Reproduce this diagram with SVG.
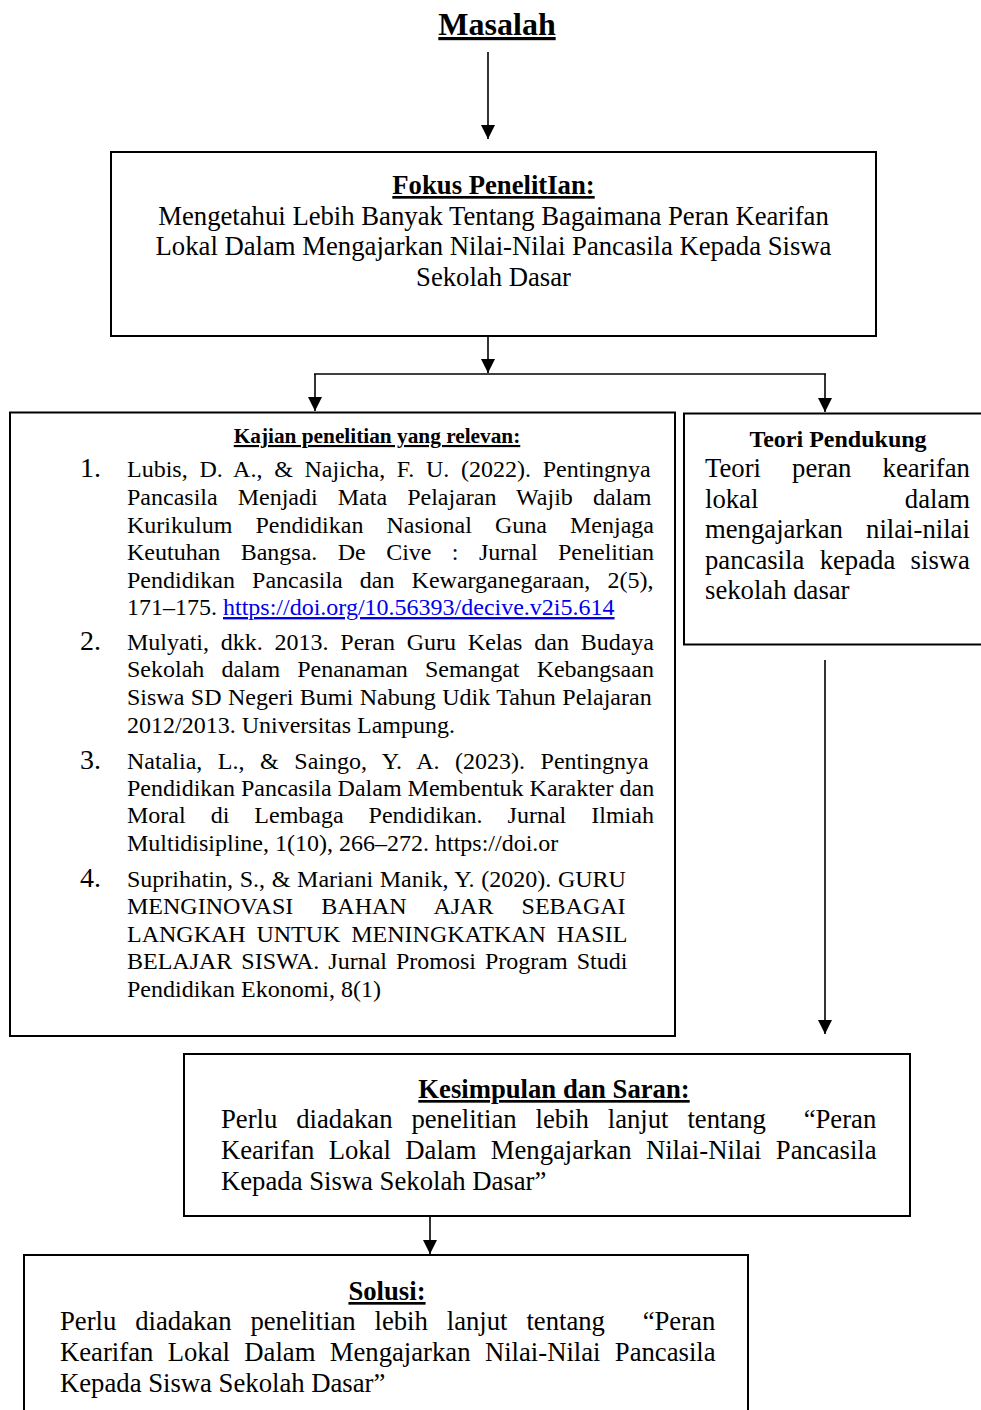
<svg xmlns="http://www.w3.org/2000/svg" width="981" height="1410" viewBox="0 0 981 1410">
<defs>
<style>
.box{fill:#fff;stroke:#000;stroke-width:2}
.t{font-family:'Liberation Serif','Times New Roman',serif;fill:#000}
.big{font-size:26.7px}
.ref{font-size:24px}
.num{font-size:28px}
.b{font-weight:bold}
.u{text-decoration:underline}
.mid{text-anchor:middle}
.conn line{stroke:#000;stroke-width:1.6}
.link{fill:#0000EE;text-decoration:underline}
</style>
<marker id="ah" viewBox="0 0 14 14" refX="14" refY="7" markerWidth="14" markerHeight="14" markerUnits="userSpaceOnUse" orient="auto">
<path d="M0,0 L14,7 L0,14 z" fill="#000"/>
</marker>
</defs>
<rect width="981" height="1410" fill="#fff"/>

<g id="masalah">
<text class="t b u mid" x="497" y="35" font-size="32">Masalah</text>
</g>

<g id="connectors" class="conn">
<line x1="488" y1="52" x2="488" y2="139" marker-end="url(#ah)"/>
<line x1="488" y1="337" x2="488" y2="373" marker-end="url(#ah)"/>
<line x1="314" y1="374" x2="826" y2="374"/>
<line x1="315" y1="374" x2="315" y2="411" marker-end="url(#ah)"/>
<line x1="825" y1="374" x2="825" y2="412" marker-end="url(#ah)"/>
<line x1="825" y1="660" x2="825" y2="1034" marker-end="url(#ah)"/>
<line x1="430" y1="1217" x2="430" y2="1254" marker-end="url(#ah)"/>
</g>

<g id="fokus">
<rect class="box" x="111" y="152" width="765" height="184"/>
<text class="t big b u mid" x="493.5" y="194">Fokus PenelitIan:</text>
<text class="t big mid" x="493.5" y="225">Mengetahui Lebih Banyak Tentang Bagaimana Peran Kearifan</text>
<text class="t big mid" x="493.5" y="255">Lokal Dalam Mengajarkan Nilai-Nilai Pancasila Kepada Siswa</text>
<text class="t big mid" x="493.5" y="286">Sekolah Dasar</text>
</g>

<g id="kajian">
<rect class="box" x="10" y="412.5" width="665" height="623.5"/>
<text class="t b u mid" x="377" y="443" font-size="21.3">Kajian penelitian yang relevan:</text>
<text class="t num" x="80" y="477">1.</text>
<text class="t ref" x="127" y="477" word-spacing="5.71">Lubis, D. A., &amp; Najicha, F. U. (2022). Pentingnya</text>
<text class="t ref" x="127" y="505" word-spacing="14.08">Pancasila Menjadi Mata Pelajaran Wajib dalam</text>
<text class="t ref" x="127" y="533" word-spacing="17.1">Kurikulum Pendidikan Nasional Guna Menjaga</text>
<text class="t ref" x="127" y="560" word-spacing="14.4">Keutuhan Bangsa. De Cive : Jurnal Penelitian</text>
<text class="t ref" x="127" y="588" word-spacing="11.1">Pendidikan Pancasila dan Kewarganegaraan, 2(5),</text>
<text class="t ref" x="127" y="615">171–175. <tspan class="link">https://doi.org/10.56393/decive.v2i5.614</tspan></text>
<text class="t num" x="80" y="650">2.</text>
<text class="t ref" x="127" y="650" word-spacing="5.77">Mulyati, dkk. 2013. Peran Guru Kelas dan Budaya</text>
<text class="t ref" x="127" y="677" word-spacing="11.1">Sekolah dalam Penanaman Semangat Kebangsaan</text>
<text class="t ref" x="127" y="705" word-spacing="0.5">Siswa SD Negeri Bumi Nabung Udik Tahun Pelajaran</text>
<text class="t ref" x="127" y="733">2012/2013. Universitas Lampung.</text>
<text class="t num" x="80" y="769">3.</text>
<text class="t ref" x="127" y="769" word-spacing="9.57">Natalia, L., &amp; Saingo, Y. A. (2023). Pentingnya</text>
<text class="t ref" x="127" y="796">Pendidikan Pancasila Dalam Membentuk Karakter dan</text>
<text class="t ref" x="127" y="823" word-spacing="19">Moral di Lembaga Pendidikan. Jurnal Ilmiah</text>
<text class="t ref" x="127" y="851">Multidisipline, 1(10), 266–272. https://doi.or</text>
<text class="t num" x="80" y="887">4.</text>
<text class="t ref" x="127" y="887" word-spacing="0.7">Suprihatin, S., &amp; Mariani Manik, Y. (2020). GURU</text>
<text class="t ref" x="127" y="914" word-spacing="22.1">MENGINOVASI BAHAN AJAR SEBAGAI</text>
<text class="t ref" x="127" y="942" word-spacing="4.8">LANGKAH UNTUK MENINGKATKAN HASIL</text>
<text class="t ref" x="127" y="969" word-spacing="3">BELAJAR SISWA. Jurnal Promosi Program Studi</text>
<text class="t ref" x="127" y="997">Pendidikan Ekonomi, 8(1)</text>
</g>

<g id="teori">
<rect class="box" x="684" y="413.5" width="310" height="231"/>
<text class="t b mid" x="838" y="447" font-size="24">Teori Pendukung</text>
<text class="t big" x="705" y="477" word-spacing="24.5">Teori peran kearifan</text>
<text class="t big" x="705" y="508">lokal</text>
<text class="t big" x="970" y="508" text-anchor="end">dalam</text>
<text class="t big" x="705" y="538" word-spacing="16.6">mengajarkan nilai-nilai</text>
<text class="t big" x="705" y="569" word-spacing="8.7">pancasila kepada siswa</text>
<text class="t big" x="705" y="599">sekolah dasar</text>
</g>

<g id="kesimpulan">
<rect class="box" x="184" y="1054" width="726" height="162"/>
<text class="t big b u mid" x="554" y="1098">Kesimpulan dan Saran:</text>
<text class="t big" x="221" y="1128" word-spacing="12.2" xml:space="preserve">Perlu diadakan penelitian lebih lanjut tentang  “Peran</text>
<text class="t big" x="221" y="1159" word-spacing="7.67">Kearifan Lokal Dalam Mengajarkan Nilai-Nilai Pancasila</text>
<text class="t big" x="221" y="1190">Kepada Siswa Sekolah Dasar”</text>
</g>

<g id="solusi">
<rect class="box" x="24" y="1255" width="724" height="170"/>
<text class="t big b u mid" x="387" y="1300">Solusi:</text>
<text class="t big" x="60" y="1330" word-spacing="12.2" xml:space="preserve">Perlu diadakan penelitian lebih lanjut tentang  “Peran</text>
<text class="t big" x="60" y="1361" word-spacing="7.67">Kearifan Lokal Dalam Mengajarkan Nilai-Nilai Pancasila</text>
<text class="t big" x="60" y="1392">Kepada Siswa Sekolah Dasar”</text>
</g>
</svg>
